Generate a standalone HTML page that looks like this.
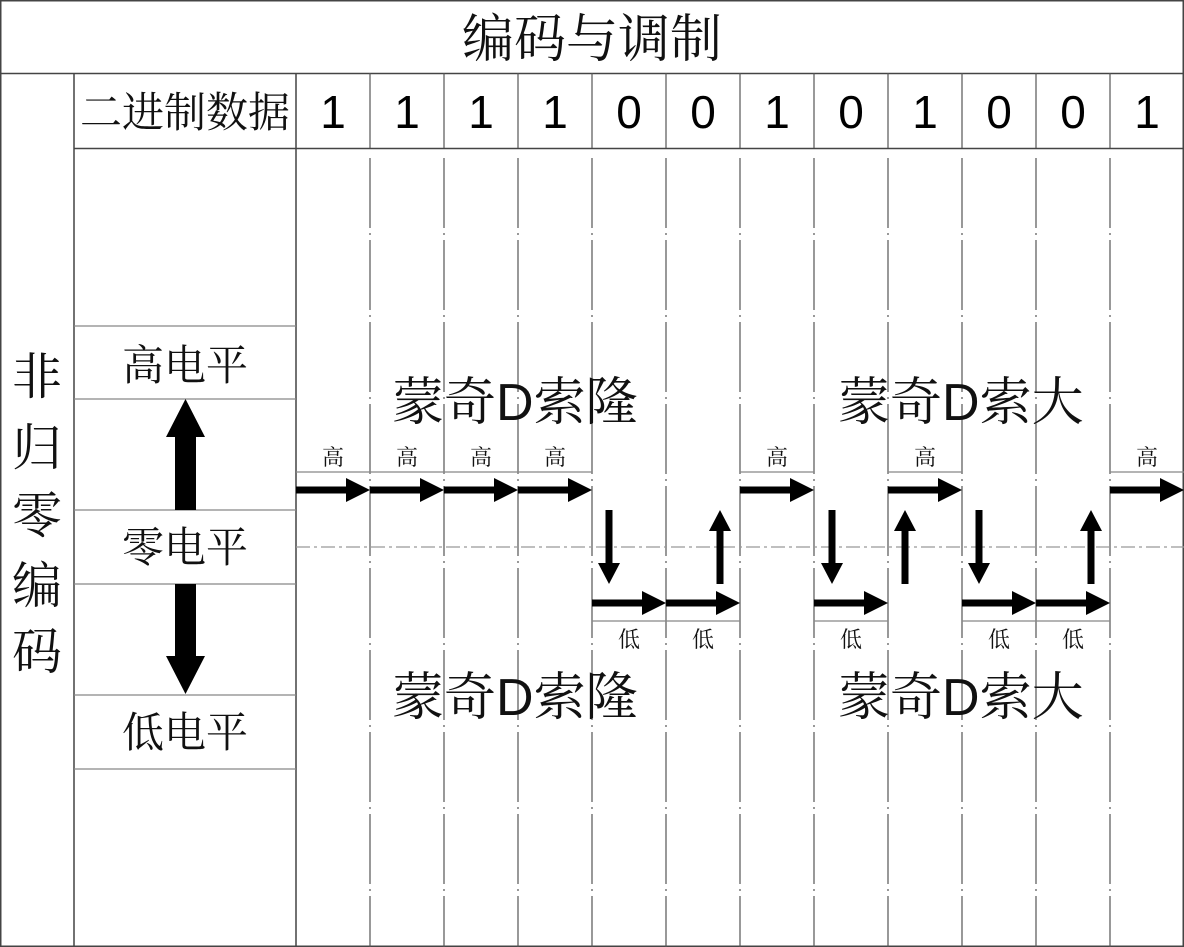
<!DOCTYPE html>
<html><head><meta charset="utf-8"><style>
html,body{margin:0;padding:0;background:#fff;width:1184px;height:947px;overflow:hidden}
svg{display:block}
.s{font-family:"Liberation Serif","Noto Serif CJK SC",serif;fill:#111}
.n{font-family:"Liberation Sans",sans-serif;fill:#000}
</style></head><body>
<svg width="1184" height="947" viewBox="0 0 1184 947" xmlns="http://www.w3.org/2000/svg">
<defs>
<g id="rh"><rect x="0" y="-3.5" width="52" height="7"/><path d="M50,-12 L74,0 L50,12 z"/></g>
<g id="dn"><rect x="-3.5" y="0" width="7" height="55"/><path d="M-11,53 L11,53 L0,74 z"/></g>
<g id="up"><rect x="-3.5" y="19" width="7" height="55"/><path d="M-11,21 L11,21 L0,0 z"/></g>
</defs>
<g stroke="#444" stroke-width="1.5" fill="none">
<rect x="0.75" y="0.75" width="1182.5" height="945.5"/>
<line x1="0" y1="73.5" x2="1184" y2="73.5"/>
<line x1="74" y1="73" x2="74" y2="947"/>
<line x1="74" y1="148.5" x2="1184" y2="148.5"/>
<line x1="296" y1="73" x2="296" y2="947"/>
</g>
<g stroke="#555" stroke-width="1.2">
<line x1="370" y1="73" x2="370" y2="148"/><line x1="444" y1="73" x2="444" y2="148"/><line x1="518" y1="73" x2="518" y2="148"/><line x1="592" y1="73" x2="592" y2="148"/><line x1="666" y1="73" x2="666" y2="148"/><line x1="740" y1="73" x2="740" y2="148"/><line x1="814" y1="73" x2="814" y2="148"/><line x1="888" y1="73" x2="888" y2="148"/><line x1="962" y1="73" x2="962" y2="148"/><line x1="1036" y1="73" x2="1036" y2="148"/><line x1="1110" y1="73" x2="1110" y2="148"/>
</g>
<g stroke="#555" stroke-width="1.2" stroke-dasharray="70,5,2,5">
<line x1="370" y1="158" x2="370" y2="947"/><line x1="444" y1="158" x2="444" y2="947"/><line x1="518" y1="158" x2="518" y2="947"/><line x1="592" y1="158" x2="592" y2="947"/><line x1="666" y1="158" x2="666" y2="947"/><line x1="740" y1="158" x2="740" y2="947"/><line x1="814" y1="158" x2="814" y2="947"/><line x1="888" y1="158" x2="888" y2="947"/><line x1="962" y1="158" x2="962" y2="947"/><line x1="1036" y1="158" x2="1036" y2="947"/><line x1="1110" y1="158" x2="1110" y2="947"/>
</g>
<g stroke="#888" stroke-width="1.2">
<line x1="74" y1="326" x2="296" y2="326"/><line x1="74" y1="399" x2="296" y2="399"/><line x1="74" y1="510" x2="296" y2="510"/><line x1="74" y1="584" x2="296" y2="584"/><line x1="74" y1="695" x2="296" y2="695"/><line x1="74" y1="769" x2="296" y2="769"/>
<line x1="296" y1="472" x2="592" y2="472"/><line x1="740" y1="472" x2="814" y2="472"/><line x1="888" y1="472" x2="962" y2="472"/><line x1="1110" y1="472" x2="1184" y2="472"/>
<line x1="592" y1="621" x2="740" y2="621"/><line x1="814" y1="621" x2="888" y2="621"/><line x1="962" y1="621" x2="1110" y2="621"/>
</g>
<line x1="296" y1="547" x2="1184" y2="547" stroke="#999" stroke-width="1.2" stroke-dasharray="14,4,3,4"/>
<path d="M175,510 V437 H166 L185.5,399 L205,437 H196 V510 z" fill="#000"/>
<path d="M175,584 V656 H166 L185.5,694 L205,656 H196 V584 z" fill="#000"/>
<g fill="#000">
<use href="#rh" transform="translate(296,490)"/><use href="#rh" transform="translate(370,490)"/><use href="#rh" transform="translate(444,490)"/><use href="#rh" transform="translate(518,490)"/>
<use href="#rh" transform="translate(740,490)"/><use href="#rh" transform="translate(888,490)"/><use href="#rh" transform="translate(1110,490)"/>
<use href="#rh" transform="translate(592,603)"/><use href="#rh" transform="translate(666,603)"/><use href="#rh" transform="translate(814,603)"/><use href="#rh" transform="translate(962,603)"/><use href="#rh" transform="translate(1036,603)"/>
<use href="#dn" transform="translate(609,510)"/>
<use href="#up" transform="translate(720,510)"/>
<use href="#dn" transform="translate(832,510)"/>
<use href="#up" transform="translate(905,510)"/>
<use href="#dn" transform="translate(979,510)"/>
<use href="#up" transform="translate(1091,510)"/>
</g>
<text class="s" x="592" y="57" font-size="52" text-anchor="middle">编码与调制</text>
<text class="s" x="185" y="127" font-size="42" text-anchor="middle">二进制数据</text>
<g class="n" font-size="46" text-anchor="middle">
<text x="333" y="128">1</text><text x="407" y="128">1</text><text x="481" y="128">1</text><text x="555" y="128">1</text><text x="629" y="128">0</text><text x="703" y="128">0</text><text x="777" y="128">1</text><text x="851" y="128">0</text><text x="925" y="128">1</text><text x="999" y="128">0</text><text x="1073" y="128">0</text><text x="1147" y="128">1</text>
</g>
<g class="s" font-size="50" text-anchor="middle">
<text x="37" y="394">非</text><text x="37" y="465">归</text><text x="37" y="533">零</text><text x="37" y="603">编</text><text x="37" y="669">码</text>
</g>
<g class="s" font-size="42" text-anchor="middle">
<text x="185" y="380">高电平</text><text x="185" y="562">零电平</text><text x="185" y="747">低电平</text>
</g>
<g class="s" font-size="52">
<text x="392" y="420">蒙奇<tspan font-family="Liberation Sans">D</tspan>索隆</text>
<text x="838" y="420">蒙奇<tspan font-family="Liberation Sans">D</tspan>索大</text>
<text x="392" y="715">蒙奇<tspan font-family="Liberation Sans">D</tspan>索隆</text>
<text x="838" y="715">蒙奇<tspan font-family="Liberation Sans">D</tspan>索大</text>
</g>
<g class="s" font-size="22" text-anchor="middle">
<text x="333" y="465">高</text><text x="407" y="465">高</text><text x="481" y="465">高</text><text x="555" y="465">高</text><text x="777" y="465">高</text><text x="925" y="465">高</text><text x="1147" y="465">高</text>
<text x="629" y="647">低</text><text x="703" y="647">低</text><text x="851" y="647">低</text><text x="999" y="647">低</text><text x="1073" y="647">低</text>
</g>
</svg>
</body></html>
